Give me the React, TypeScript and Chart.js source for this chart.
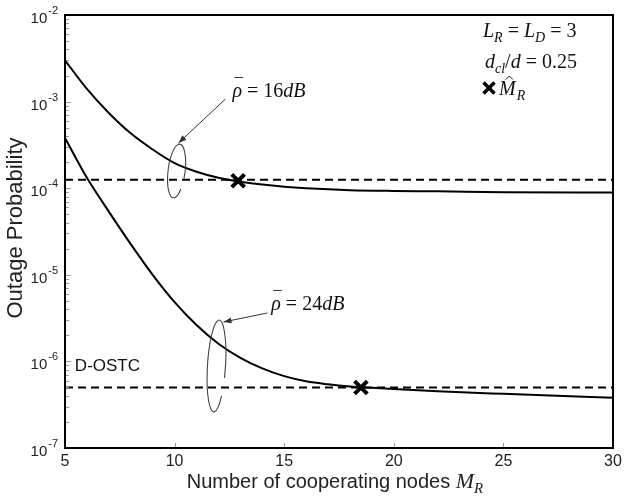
import React, { useEffect, useRef } from 'react';
import { Chart, registerables } from 'chart.js';

Chart.register(...registerables);

// ---- data ----
const nodes16 = [5, 6, 7, 8, 9, 10, 11, 12, 13, 14, 15, 16, 18, 20, 22, 25, 30];
const outage16 = [3.0e-3, 1.4e-3, 7.4e-4, 4.3e-4, 2.8e-4, 1.95e-4, 1.55e-4, 1.32e-4, 1.19e-4, 1.1e-4, 1.04e-4, 1.0e-4, 9.5e-5, 9.3e-5, 9.2e-5, 9.0e-5, 8.9e-5];
const nodes24 = [5, 6, 7, 8, 9, 10, 11, 12, 13, 14, 15, 16, 17, 18, 19, 20, 22, 25, 30];
const outage24 = [3.8e-4, 1.32e-4, 5.37e-5, 2.26e-5, 1.0e-5, 4.84e-6, 2.63e-6, 1.6e-6, 1.1e-6, 8.3e-7, 6.76e-7, 5.89e-7, 5.43e-7, 5.13e-7, 4.95e-7, 4.79e-7, 4.52e-7, 4.22e-7, 3.8e-7];
const dostcRange = [5, 30];
const dostc16 = 1.25e-4;
const dostc24 = 5e-7;
const optimalM = [12.9, 18.5];
const optimalP = [1.22e-4, 5e-7];
const xTickValues = [5, 10, 15, 20, 25, 30];
const yDecades = [-7, -6, -5, -4, -3, -2];

const SANS = '"Liberation Sans", Arial, sans-serif';
const SERIF = '"Liberation Serif", "Times New Roman", serif';

type Run = [string, string, number];

function drawRuns(ctx: CanvasRenderingContext2D, x: number, y: number, parts: Run[]) {
  for (const [t, f, dy] of parts) {
    ctx.font = f;
    ctx.fillText(t, x, y + dy);
    x += ctx.measureText(t).width;
  }
  return x;
}
function runsWidth(ctx: CanvasRenderingContext2D, parts: Run[]) {
  let w = 0;
  for (const [t, f] of parts) {
    ctx.font = f;
    w += ctx.measureText(t).width;
  }
  return w;
}

function arrow(ctx: CanvasRenderingContext2D, x1: number, y1: number, x2: number, y2: number) {
  ctx.beginPath();
  ctx.moveTo(x1, y1);
  ctx.lineTo(x2, y2);
  ctx.stroke();
  const a = Math.atan2(y2 - y1, x2 - x1);
  const L = 8, W = 3;
  ctx.beginPath();
  ctx.moveTo(x2, y2);
  ctx.lineTo(x2 - L * Math.cos(a) + W * Math.sin(a), y2 - L * Math.sin(a) - W * Math.cos(a));
  ctx.lineTo(x2 - L * Math.cos(a) - W * Math.sin(a), y2 - L * Math.sin(a) + W * Math.cos(a));
  ctx.closePath();
  ctx.fill();
}

const decorPlugin = {
  id: 'decor',
  afterDraw(chart: any) {
    const ctx: CanvasRenderingContext2D = chart.ctx;
    const xs = chart.scales.x;
    const ys = chart.scales.y;
    const { left, right, top, bottom } = chart.chartArea;
    const P = (m: number, e: number) => [xs.getPixelForValue(m), ys.getPixelForValue(Math.pow(10, e))];
    ctx.save();

    // minor / major ticks
    ctx.strokeStyle = '#9a9a9a';
    ctx.lineWidth = 1;
    for (const e of yDecades) {
      for (let k = 1; k <= 9; k++) {
        const v = k * Math.pow(10, e);
        if (v > 1e-2 || v < 1e-7) continue;
        const y = Math.round(ys.getPixelForValue(v)) + 0.5;
        ctx.beginPath();
        ctx.moveTo(left, y);
        ctx.lineTo(left + (k === 1 ? 6 : 4), y);
        ctx.stroke();
      }
    }
    for (const t of xTickValues) {
      if (t === 5 || t === 30) continue;
      const x = Math.round(xs.getPixelForValue(t)) + 0.5;
      ctx.beginPath();
      ctx.moveTo(x, bottom);
      ctx.lineTo(x, bottom - 5);
      ctx.stroke();
    }

    // frame
    ctx.strokeStyle = '#000';
    ctx.lineWidth = 2;
    ctx.strokeRect(left, top, right - left, bottom - top);

    // y tick labels 10^e
    ctx.fillStyle = '#222';
    ctx.textBaseline = 'alphabetic';
    for (const e of yDecades) {
      const y = ys.getPixelForValue(Math.pow(10, e));
      ctx.font = `11px ${SANS}`;
      const ex = String(e);
      const ew = ctx.measureText(ex).width;
      ctx.textAlign = 'right';
      ctx.fillText(ex, left - 7, y - 1);
      ctx.font = `15px ${SANS}`;
      ctx.fillText('10', left - 8 - ew, y + 8);
    }
    ctx.textAlign = 'left';

    // y title
    ctx.save();
    ctx.translate(16, 228);
    ctx.rotate(-Math.PI / 2);
    ctx.font = `22px ${SANS}`;
    ctx.textAlign = 'center';
    ctx.textBaseline = 'middle';
    ctx.fillText('Outage Probability', 0, 0);
    ctx.restore();

    // x title
    const xt: Run[] = [
      ['Number of cooperating nodes ', `20px ${SANS}`, 0],
      ['M', `italic 22px ${SERIF}`, 0],
      ['R', `italic 15px ${SERIF}`, 5],
    ];
    const xw = runsWidth(ctx, xt);
    drawRuns(ctx, (left + right) / 2 - xw / 2 - 4, 488, xt);

    // annotations
    ctx.fillStyle = '#111';
    ctx.strokeStyle = '#333';
    ctx.lineWidth = 1;
    const rhoLabel = (m: number, e: number, val: string) => {
      const [x, y] = P(m, e);
      ctx.font = `italic 20px ${SERIF}`;
      const rw = ctx.measureText('ρ').width;
      drawRuns(ctx, x, y, [
        ['ρ', `italic 20px ${SERIF}`, 0],
        [' = ', `20px ${SERIF}`, 0],
        [val, `20px ${SERIF}`, 0],
        ['dB', `italic 20px ${SERIF}`, 0],
      ]);
      ctx.beginPath();
      ctx.moveTo(x + 2, y - 19.5);
      ctx.lineTo(x + rw + 1, y - 19.5);
      ctx.stroke();
    };
    rhoLabel(12.64, -2.947, '16');
    rhoLabel(14.41, -5.406, '24');

    ctx.fillStyle = '#333';
    let a = P(12.32, -2.97), b = P(10.18, -3.478);
    arrow(ctx, a[0], a[1], b[0], b[1]);
    a = P(14.23, -5.441); b = P(12.23, -5.545);
    arrow(ctx, a[0], a[1], b[0], b[1]);

    ctx.strokeStyle = '#444';
    ctx.lineWidth = 1.1;
    let c = P(10.09, -3.801);
    ctx.beginPath();
    ctx.ellipse(c[0], c[1], 8.5, 27, 0.12, 0.7, 0.25, false);
    ctx.stroke();
    c = P(11.91, -6.053);
    ctx.beginPath();
    ctx.ellipse(c[0], c[1], 9, 46, 0.06, 0.7, 0.25, false);
    ctx.stroke();

    // D-OSTC
    ctx.fillStyle = '#111';
    ctx.font = `17px ${SANS}`;
    const d = P(5.45, -6.053);
    ctx.textBaseline = 'middle';
    ctx.fillText('D-OSTC', d[0], d[1]);
    ctx.textBaseline = 'alphabetic';

    // legend text (top right)
    drawRuns(ctx, right - 130, top + 22, [
      ['L', `italic 20px ${SERIF}`, 0],
      ['R', `italic 14px ${SERIF}`, 5],
      [' = ', `20px ${SERIF}`, 0],
      ['L', `italic 20px ${SERIF}`, 0],
      ['D', `italic 14px ${SERIF}`, 5],
      [' = 3', `20px ${SERIF}`, 0],
    ]);
    drawRuns(ctx, right - 128, top + 53, [
      ['d', `italic 20px ${SERIF}`, 0],
      ['cl', `italic 14px ${SERIF}`, 5],
      ['/', `20px ${SERIF}`, 0],
      ['d', `italic 20px ${SERIF}`, 0],
      [' = 0.25', `20px ${SERIF}`, 0],
    ]);
    // marker sample
    const mx = right - 124, my = top + 73;
    ctx.strokeStyle = '#000';
    ctx.lineWidth = 3.5;
    ctx.beginPath();
    ctx.moveTo(mx - 5.5, my - 5.5); ctx.lineTo(mx + 5.5, my + 5.5);
    ctx.moveTo(mx + 5.5, my - 5.5); ctx.lineTo(mx - 5.5, my + 5.5);
    ctx.stroke();
    const mX = right - 114, mY = top + 80;
    ctx.font = `italic 20px ${SERIF}`;
    const mw = ctx.measureText('M').width;
    ctx.fillText('M', mX, mY);
    // hat over M
    const hx = mX + mw / 2 + 2;
    ctx.lineWidth = 1;
    ctx.strokeStyle = '#111';
    ctx.beginPath();
    ctx.moveTo(hx - 3.5, mY - 15.5);
    ctx.lineTo(hx, mY - 19);
    ctx.lineTo(hx + 3.5, mY - 15.5);
    ctx.stroke();
    ctx.font = `italic 14px ${SERIF}`;
    ctx.fillText('R', mX + mw + 1, mY + 5);

    ctx.restore();
  },
};

export default function App() {
  const ref = useRef<HTMLCanvasElement | null>(null);
  useEffect(() => {
    if (!ref.current) return;
    const chart = new Chart(ref.current, {
      type: 'line',
      data: {
        datasets: [
          {
            label: '16dB',
            data: nodes16.map((m, i) => ({ x: m, y: outage16[i] })),
            borderColor: '#000',
            borderWidth: 2,
            pointRadius: 0,
            cubicInterpolationMode: 'monotone',
          },
          {
            label: '24dB',
            data: nodes24.map((m, i) => ({ x: m, y: outage24[i] })),
            borderColor: '#000',
            borderWidth: 2,
            pointRadius: 0,
            cubicInterpolationMode: 'monotone',
          },
          {
            label: 'D-OSTC 16dB',
            data: dostcRange.map((m) => ({ x: m, y: dostc16 })),
            borderColor: '#000',
            borderWidth: 2,
            borderDash: [8, 5],
            pointRadius: 0,
          },
          {
            label: 'D-OSTC 24dB',
            data: dostcRange.map((m) => ({ x: m, y: dostc24 })),
            borderColor: '#000',
            borderWidth: 2,
            borderDash: [8, 5],
            pointRadius: 0,
          },
          {
            label: 'optimal',
            data: optimalM.map((m, i) => ({ x: m, y: optimalP[i] })),
            showLine: false,
            pointStyle: 'crossRot',
            pointRadius: 9,
            borderWidth: 4,
            borderColor: '#000',
            backgroundColor: '#000',
          },
        ],
      },
      options: {
        animation: false,
        responsive: false,
        events: [],
        layout: { padding: { top: 15, right: 11, left: 0, bottom: 0 } },
        plugins: { legend: { display: false }, tooltip: { enabled: false }, title: { display: false } },
        scales: {
          x: {
            type: 'linear',
            min: 5,
            max: 30,
            afterBuildTicks: (s: any) => { s.ticks = xTickValues.map((v) => ({ value: v })); },
            afterFit: (s: any) => { s.height = 48; },
            grid: { display: false, drawTicks: false },
            border: { display: false },
            ticks: { color: '#222', font: { family: SANS, size: 16 }, padding: 4, maxRotation: 0 },
          },
          y: {
            type: 'logarithmic',
            min: 1e-7,
            max: 1e-2,
            afterFit: (s: any) => { s.width = 65; },
            grid: { display: false, drawTicks: false },
            border: { display: false },
            ticks: { display: false },
          },
        },
      } as any,
      plugins: [decorPlugin],
    });
    return () => chart.destroy();
  }, []);
  return (
    <div style={{ position: 'absolute', left: 0, top: 0, width: 626, height: 496, background: '#fff' }}>
      <canvas ref={ref} width={626} height={496} />
    </div>
  );
}
